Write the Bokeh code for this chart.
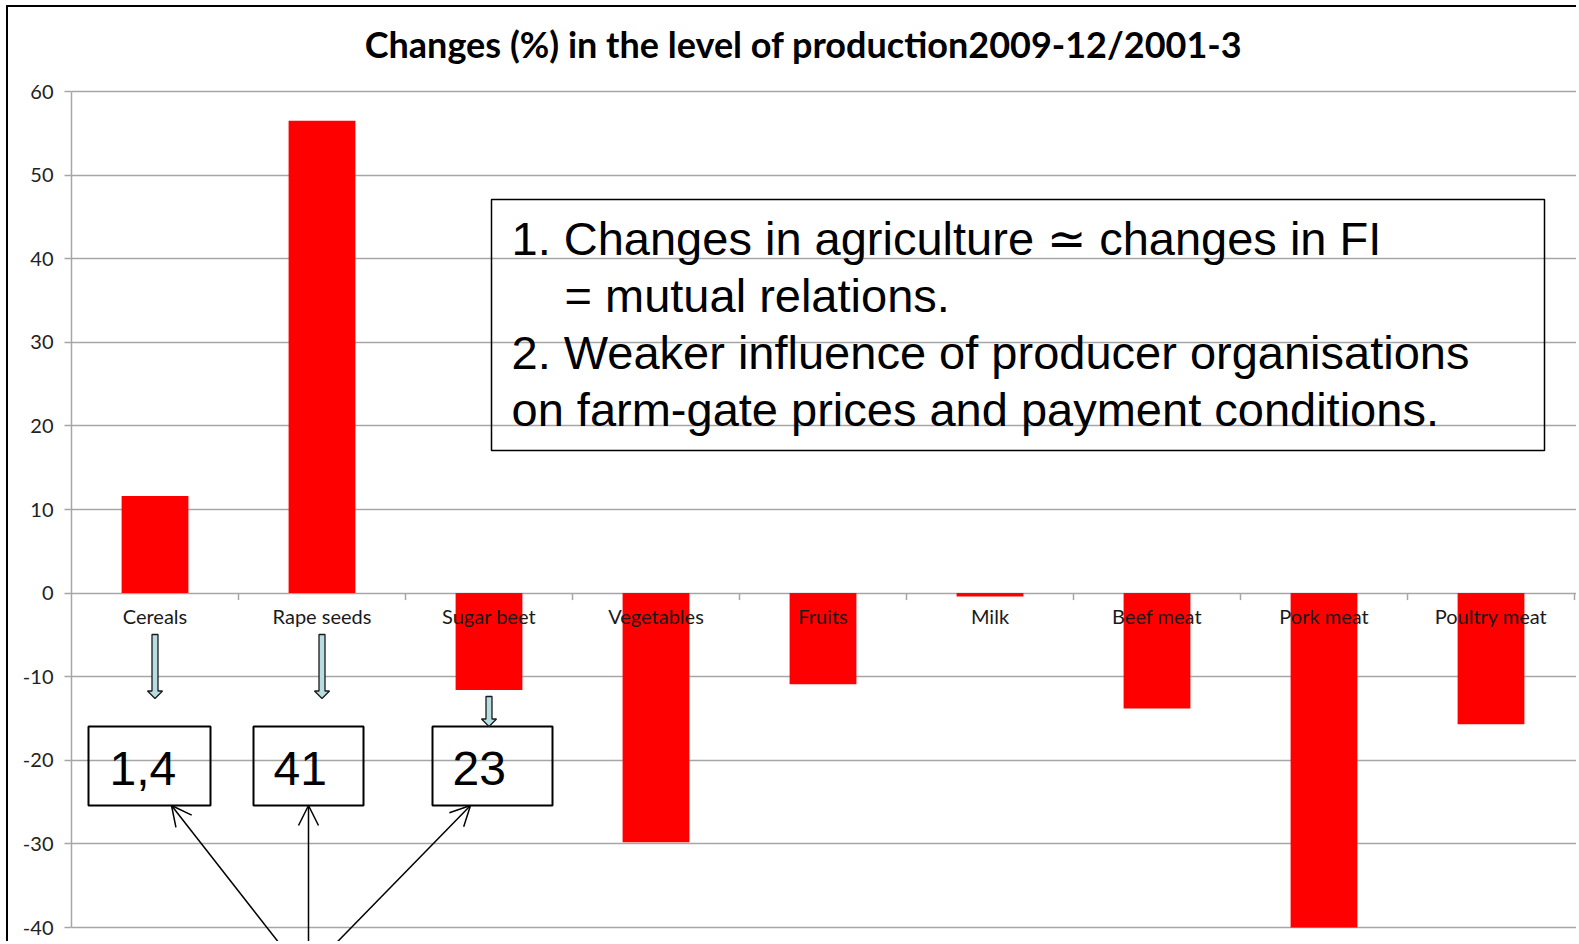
from bokeh.plotting import figure
from bokeh.models import Range1d, FixedTicker, Arrow, OpenHead, Label
from bokeh.core.properties import value
from bokeh.embed import file_html
from bokeh.resources import INLINE

# ---- data ----
categories = ["Cereals", "Rape seeds", "Sugar beet", "Vegetables", "Fruits",
              "Milk", "Beef meat", "Pork meat", "Poultry meat"]
changes = [11.6, 56.5, -11.6, -29.8, -10.9, -0.4, -13.8, -40.0, -15.7]
y_ticks = [-40, -30, -20, -10, 0, 10, 20, 30, 40, 50, 60]
y_tick_labels = ["-40", "-30", "-20", "-10", "0", "10", "20", "30", "40", "50", "60"]
title_text = "Changes (%) in the level of production2009-12/2001-3"
box_lines = ["1. Changes in agriculture \u2243 changes in FI",
             "= mutual relations.",
             "2. Weaker influence of producer organisations",
             "on farm-gate prices and payment conditions."]
small_box_texts = ["1,4", "41", "23"]

# ---- layout constants (page pixels) ----
W, H = 1570, 936
ORG_X, ORG_Y = 8, 7
FRAME_L = 71.0
Y60_PX = 91.0          # page y of the 60 gridline
LEFT = int(FRAME_L - ORG_X)
FRAME_W = W - LEFT
CAT_PX = 167.0
PX_PER_UNIT = 8.36
x_end = FRAME_W / CAT_PX
y_max_tick = 60.0
y_top = y_max_tick + (Y60_PX - ORG_Y) / PX_PER_UNIT
y_bot = y_max_tick - (ORG_Y + H - Y60_PX) / PX_PER_UNIT
LABEL_FIX = 16  # label baseline correction (px)

def px_x(px):
    return (px - FRAME_L) / CAT_PX

def px_y(py):
    return y_max_tick - (py - Y60_PX) / PX_PER_UNIT

p = figure(width=W, height=H, output_backend="svg", toolbar_location=None,
           x_range=Range1d(0, x_end), y_range=Range1d(y_bot, y_top),
           x_axis_location=None, min_border_left=LEFT, min_border_top=0,
           min_border_right=0, min_border_bottom=0)
p.styles = {"margin-left": "6px", "margin-top": "5px",
            "border-left": "2px solid #000", "border-top": "2px solid #000"}
p.outline_line_color = None
p.background_fill_color = "white"
p.border_fill_color = "white"

# y axis
yax = p.yaxis[0]
yax.ticker = FixedTicker(ticks=y_ticks)
yax.major_label_overrides = {t: s for t, s in zip(y_ticks, y_tick_labels)}
yax.bounds = (-40, 60)
yax.axis_line_color = "#a6a6a6"
yax.axis_line_width = 1.5
yax.major_tick_line_color = "#a6a6a6"
yax.major_tick_line_width = 1.5
yax.major_tick_out = 7
yax.major_tick_in = 0
yax.minor_tick_line_color = None
yax.major_label_text_font = "Lato"
yax.major_label_text_font_size = "20px"
yax.major_label_text_color = "#222222"
yax.major_label_standoff = 11

n = len(categories)
p.xgrid.visible = False
p.ygrid.ticker = FixedTicker(ticks=y_ticks)
p.ygrid.grid_line_color = "#a6a6a6"
p.ygrid.grid_line_width = 1.5
p.ygrid.bounds = (0, n)

# chart title
p.text(x=[px_x(803)], y=[px_y(43)], text=[title_text], text_align="center",
       text_baseline="middle", text_font=value("Lato"), text_font_style="bold",
       text_font_size="36px", text_color="#000000")

# category tick marks on the zero line
bounds_x = list(range(1, n + 1))
p.segment(x0=bounds_x, y0=[0] * n, x1=bounds_x, y1=[-7 / PX_PER_UNIT] * n,
          line_color="#a6a6a6", line_width=1.5)

centers = [i + 0.5 for i in range(n)]
p.vbar(x=centers, top=changes, bottom=0, width=0.4, fill_color="#ff0000",
       line_color=None)

p.text(x=centers, y=[px_y(615.5)] * n, text=categories, text_align="center",
       text_baseline="middle", text_font=value("Lato"), text_font_size="20px",
       text_color="#1a1a1a")

# ---- annotation text box ----
bx0, bx1, by0, by1 = px_x(491), px_x(1544), px_y(199), px_y(450)
p.quad(left=[bx0], right=[bx1], top=[by0], bottom=[by1], fill_color=None,
       line_color="#000000", line_width=1.5)
line_x = [511, 564, 511, 511]
baselines = [254, 311, 368, 425]
for line, lx, bl in zip(box_lines, line_x, baselines):
    p.add_layout(Label(x=px_x(lx), y=px_y(bl - LABEL_FIX), text=line,
                       text_font="Liberation Sans", text_font_size="47px",
                       text_color="#000000", text_baseline="alphabetic"))

# ---- small value boxes ----
small_boxes = [(88, 210), (253, 363), (432, 552)]
text_left = [109, 273, 452]
for (l, r), t, tl in zip(small_boxes, small_box_texts, text_left):
    p.quad(left=[px_x(l)], right=[px_x(r)], top=[px_y(726)], bottom=[px_y(805)],
           fill_color=None, line_color="#000000", line_width=2)
    p.add_layout(Label(x=px_x(tl), y=px_y(784 - LABEL_FIX), text=t,
                       text_font="Liberation Sans", text_font_size="48px",
                       text_color="#000000", text_baseline="alphabetic"))

# ---- block arrows (hollow, light blue) ----
def block_arrow(xc, ytop_px, ytip_px):
    sw = 3.0 / CAT_PX
    hw = 7.5 / CAT_PX
    hl = 7.5
    yt, yh, yp = px_y(ytop_px), px_y(ytip_px - hl), px_y(ytip_px)
    xs = [xc - sw, xc + sw, xc + sw, xc + hw, xc, xc - hw, xc - sw]
    ys = [yt, yt, yh, yh, yp, yh, yh]
    return xs, ys

arrows_spec = [(0.5, 634, 698), (1.5, 634, 698), (2.5, 696, 726)]
axs, ays = [], []
for xc, a, b in arrows_spec:
    xs, ys = block_arrow(xc, a, b)
    axs.append(xs)
    ays.append(ys)
p.patches(xs=axs, ys=ays, fill_color="#b7dde3", line_color="#1a1a1a",
          line_width=1.3)

# ---- line arrows to value boxes ----
for ex, sx in [(171, 304), (308, 308), (470, 304)]:
    p.add_layout(Arrow(end=OpenHead(size=20, line_width=1.5, line_color="#000000"),
                       x_start=px_x(sx), y_start=px_y(975), x_end=px_x(ex), y_end=px_y(805),
                       line_width=1.5, line_color="#000000"))

open("out.html", "w").write(file_html(p, INLINE))
